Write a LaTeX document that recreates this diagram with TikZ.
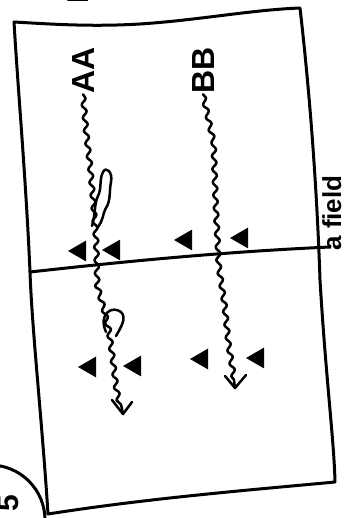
\documentclass[tikz,border=0pt]{standalone}
\usepackage{fontspec}
\setmainfont{Liberation Sans}
\usetikzlibrary{decorations.pathmorphing,shapes.geometric}
\begin{document}
\begin{tikzpicture}[x=1pt,y=-1pt,
  frame/.style={line width=3pt,line cap=round,line join=round},
  wave/.style={line width=2.5pt,line cap=round,line join=round,decorate,
     decoration={snake,amplitude=2.2pt,segment length=13pt,post length=4pt}},
  stroke/.style={line width=2.5pt,line cap=round,line join=round},
  tri/.style={regular polygon,regular polygon sides=3,shape border rotate=90,
     fill=black,inner sep=0pt,minimum size=24pt},
  lbl/.style={rotate=90,inner sep=1pt,font=\fontsize{32}{32}\selectfont\bfseries},
  side/.style={rotate=90,inner sep=0pt,font=\fontsize{30}{30}\selectfont\bfseries}]
\useasboundingbox (0,0) rectangle (343,518);
\clip (0,0) rectangle (343,518);
% frame
\draw[frame] (14,22) .. controls (50,24) and (90,27) .. (140,24)
  .. controls (200,20) and (250,10) .. (300,8)
  .. controls (306,60) and (316,160) .. (320,280)
  .. controls (326,380) and (334,440) .. (335,482)
  .. controls (250,490) and (150,498) .. (48,514)
  .. controls (42,420) and (32,330) .. (30,272)
  .. controls (26,180) and (18,90) .. (14,22) -- cycle;
% half line
\coordinate (m0) at (30,272);
\coordinate (m1) at (330,247);
\draw[frame] (m0) .. controls (120,262) and (220,252) .. (m1);
% labels
\node[lbl] (AA) at (83,70) {AA};
\node[lbl] (BB) at (203,70) {BB};
% AA run
\coordinate (a1) at (123,414);
\draw[wave] (AA.west) -- (86,130) -- (90,165) -- (93,200) -- (96,240) -- (97,280)
  -- (104,305) -- (110,330) -- (114,360) -- (117,385) -- (a1);
\draw[stroke] (92,226) .. controls (96,212) and (94,204) .. (98,196)
  .. controls (102,188) and (99,180) .. (103,172)
  .. controls (106,166) and (113,172) .. (111,182)
  .. controls (109,192) and (111,200) .. (106,208)
  .. controls (102,215) and (104,220) .. (97,228);
\draw[stroke] (106,332) .. controls (98,314) and (112,305) .. (121,312)
  .. controls (127,318) and (121,327) .. (116,336);
\draw[stroke] (112,400) -- (a1) -- (132,402);
% BB run
\coordinate (b1) at (235,388);
\draw[wave] (BB.west) -- (213,140) -- (215,200) -- (218,260) -- (224,300)
  -- (228,340) -- (232,365) -- (b1);
\draw[stroke] (225,376) -- (b1) -- (246,375);
% defenders
\node[tri] (t1) at (80,251) {};
\node[tri] (t2) at (114,250) {};
\node[tri] (t3) at (186,240) {};
\node[tri] (t4) at (242,238) {};
\node[tri] (t5) at (90,367) {};
\node[tri] (t6) at (135,366) {};
\node[tri] (t7) at (202,359) {};
\node[tri] (t8) at (258,358) {};
% writing at the edges
\node[side,anchor=base,font=\fontsize{26}{26}\selectfont\bfseries] (fld) at (341,213) {a field};
\node[side] (pp) at (78,-6) {P};
\node[frame,draw,circle,minimum size=110pt] (num) at (-10,520) {};
\node[side] (five) at (8,503) {5};
\end{tikzpicture}
\end{document}
